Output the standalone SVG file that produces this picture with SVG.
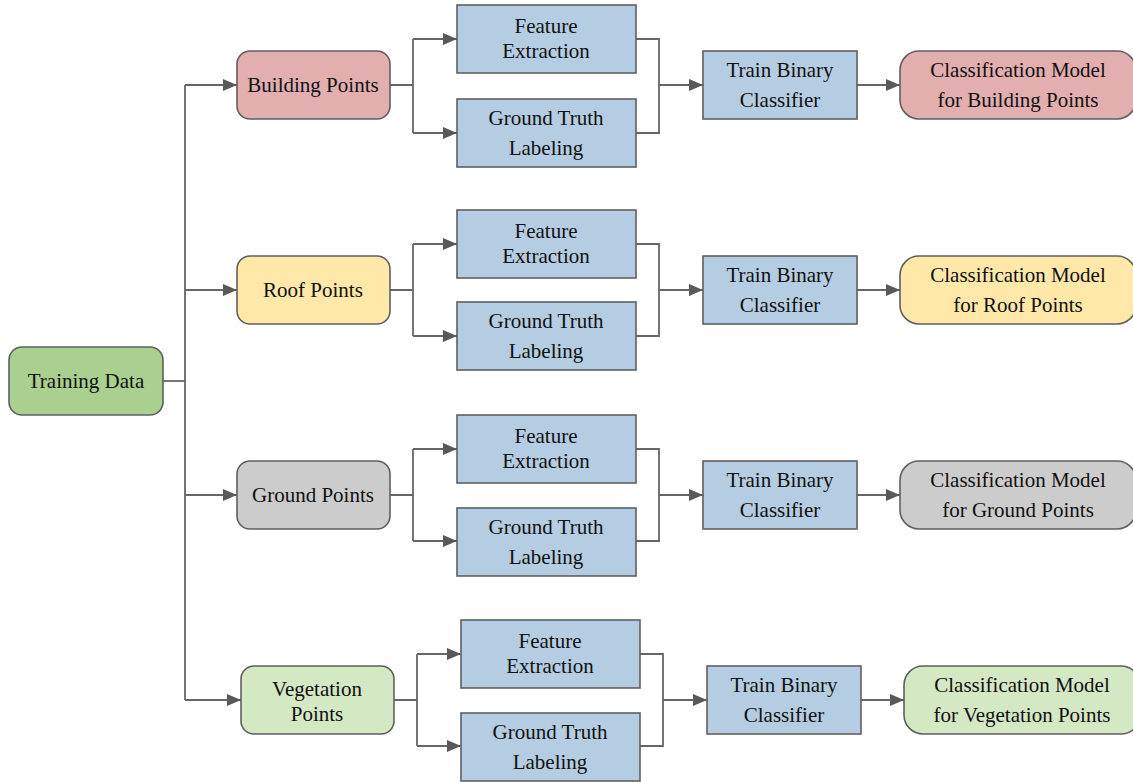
<svg xmlns="http://www.w3.org/2000/svg" width="1133" height="782" viewBox="0 0 1133 782">
<defs>
<marker id="ah" markerUnits="userSpaceOnUse" markerWidth="15" markerHeight="12" refX="14" refY="6" orient="auto">
<path d="M0,0 L14,6 L0,12 z" fill="#595959"/>
</marker>
<style>
.r{stroke:#5f5f5f;stroke-width:1.6}
.blue{fill:#b4cde2}
.t{font-family:"Liberation Serif","Times New Roman",serif;font-size:21px;fill:#111;text-anchor:middle}
.c{fill:none;stroke:#666;stroke-width:1.8}
.a{marker-end:url(#ah)}
</style>
</defs>
<rect width="1133" height="782" fill="#fff"/>
<g id="connectors">
<path class="c" d="M163,381 H185"/>
<path class="c" d="M185,85 V700"/>
<path class="c a" d="M185,85 H237"/>
<path class="c a" d="M185,290 H237"/>
<path class="c a" d="M185,495 H237"/>
<path class="c a" d="M185,700 H241"/>
<!-- row 1 -->
<path class="c" d="M390,85 H413 M413,39 V133"/>
<path class="c a" d="M413,39 H457"/>
<path class="c a" d="M413,133 H457"/>
<path class="c" d="M636,39 H659 V133 H636"/>
<path class="c a" d="M659,85 H703"/>
<path class="c a" d="M857,85 H900"/>
<!-- row 2 -->
<path class="c" d="M390,290 H413 M413,244 V336"/>
<path class="c a" d="M413,244 H457"/>
<path class="c a" d="M413,336 H457"/>
<path class="c" d="M636,244 H659 V336 H636"/>
<path class="c a" d="M659,290 H703"/>
<path class="c a" d="M857,290 H900"/>
<!-- row 3 -->
<path class="c" d="M390,495 H413 M413,449 V541"/>
<path class="c a" d="M413,449 H457"/>
<path class="c a" d="M413,541 H457"/>
<path class="c" d="M636,449 H659 V541 H636"/>
<path class="c a" d="M659,495 H703"/>
<path class="c a" d="M857,495 H900"/>
<!-- row 4 -->
<path class="c" d="M394,700 H417 M417,654 V746"/>
<path class="c a" d="M417,654 H461"/>
<path class="c a" d="M417,746 H461"/>
<path class="c" d="M640,654 H663 V746 H640"/>
<path class="c a" d="M663,700 H707"/>
<path class="c a" d="M861,700 H904"/>
</g>
<g id="training-data">
<rect class="r" x="9" y="347" width="154" height="68" rx="13" fill="#a9d08e"/>
<text class="t" x="86" y="388">Training Data</text>
</g>
<!-- Row 1 -->
<g id="building-points">
<rect class="r" x="237" y="51" width="153" height="68" rx="13" fill="#e2aeae"/>
<text class="t" x="313" y="92">Building Points</text>
</g>
<g id="fe1">
<rect class="r blue" x="457" y="5" width="179" height="68"/>
<text class="t" x="546" y="33">Feature</text>
<text class="t" x="546" y="58">Extraction</text>
</g>
<g id="gt1">
<rect class="r blue" x="457" y="99" width="179" height="68"/>
<text class="t" x="546" y="125">Ground Truth</text>
<text class="t" x="546" y="155">Labeling</text>
</g>
<g id="train1">
<rect class="r blue" x="703" y="51" width="154" height="68"/>
<text class="t" x="780" y="77">Train Binary</text>
<text class="t" x="780" y="107">Classifier</text>
</g>
<g id="cm1">
<rect class="r" x="900" y="51" width="236" height="68" rx="19" fill="#e2aeae"/>
<text class="t" x="1018" y="77">Classification Model</text>
<text class="t" x="1018" y="107">for Building Points</text>
</g>
<!-- Row 2 -->
<g id="roof-points">
<rect class="r" x="237" y="256" width="153" height="68" rx="13" fill="#ffe8a8"/>
<text class="t" x="313" y="297">Roof Points</text>
</g>
<g id="fe2">
<rect class="r blue" x="457" y="210" width="179" height="68"/>
<text class="t" x="546" y="238">Feature</text>
<text class="t" x="546" y="263">Extraction</text>
</g>
<g id="gt2">
<rect class="r blue" x="457" y="302" width="179" height="68"/>
<text class="t" x="546" y="328">Ground Truth</text>
<text class="t" x="546" y="358">Labeling</text>
</g>
<g id="train2">
<rect class="r blue" x="703" y="256" width="154" height="68"/>
<text class="t" x="780" y="282">Train Binary</text>
<text class="t" x="780" y="312">Classifier</text>
</g>
<g id="cm2">
<rect class="r" x="900" y="256" width="236" height="68" rx="19" fill="#ffe8a8"/>
<text class="t" x="1018" y="282">Classification Model</text>
<text class="t" x="1018" y="312">for Roof Points</text>
</g>
<!-- Row 3 -->
<g id="ground-points">
<rect class="r" x="237" y="461" width="153" height="68" rx="13" fill="#cccccc"/>
<text class="t" x="313" y="502">Ground Points</text>
</g>
<g id="fe3">
<rect class="r blue" x="457" y="415" width="179" height="68"/>
<text class="t" x="546" y="443">Feature</text>
<text class="t" x="546" y="468">Extraction</text>
</g>
<g id="gt3">
<rect class="r blue" x="457" y="508" width="179" height="68"/>
<text class="t" x="546" y="534">Ground Truth</text>
<text class="t" x="546" y="564">Labeling</text>
</g>
<g id="train3">
<rect class="r blue" x="703" y="461" width="154" height="68"/>
<text class="t" x="780" y="487">Train Binary</text>
<text class="t" x="780" y="517">Classifier</text>
</g>
<g id="cm3">
<rect class="r" x="900" y="461" width="236" height="68" rx="19" fill="#cccccc"/>
<text class="t" x="1018" y="487">Classification Model</text>
<text class="t" x="1018" y="517">for Ground Points</text>
</g>
<!-- Row 4 -->
<g id="vegetation-points">
<rect class="r" x="241" y="666" width="153" height="68" rx="13" fill="#d5e8c4"/>
<text class="t" x="317" y="696">Vegetation</text>
<text class="t" x="317" y="721">Points</text>
</g>
<g id="fe4">
<rect class="r blue" x="461" y="620" width="179" height="68"/>
<text class="t" x="550" y="648">Feature</text>
<text class="t" x="550" y="673">Extraction</text>
</g>
<g id="gt4">
<rect class="r blue" x="461" y="713" width="179" height="68"/>
<text class="t" x="550" y="739">Ground Truth</text>
<text class="t" x="550" y="769">Labeling</text>
</g>
<g id="train4">
<rect class="r blue" x="707" y="666" width="154" height="68"/>
<text class="t" x="784" y="692">Train Binary</text>
<text class="t" x="784" y="722">Classifier</text>
</g>
<g id="cm4">
<rect class="r" x="904" y="666" width="236" height="68" rx="19" fill="#d5e8c4"/>
<text class="t" x="1022" y="692">Classification Model</text>
<text class="t" x="1022" y="722">for Vegetation Points</text>
</g>
</svg>
